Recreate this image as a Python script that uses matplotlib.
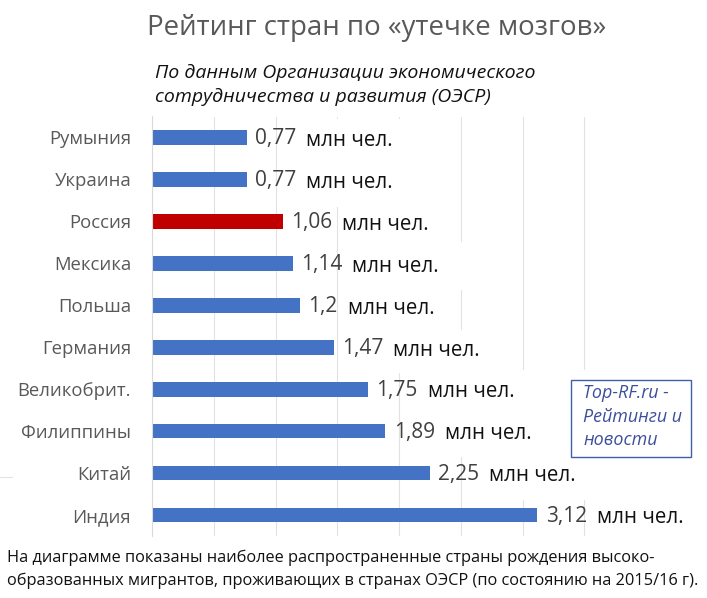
import matplotlib
matplotlib.use("Agg")
import matplotlib.pyplot as plt
from matplotlib.lines import Line2D
from matplotlib.patches import Rectangle

# ---------------- DATA ----------------
countries = ["Румыния", "Украина", "Россия", "Мексика", "Польша",
             "Германия", "Великобрит.", "Филиппины", "Китай", "Индия"]
values = [0.77, 0.77, 1.06, 1.14, 1.2, 1.47, 1.75, 1.89, 2.25, 3.12]
value_labels = ["0,77", "0,77", "1,06", "1,14", "1,2", "1,47", "1,75", "1,89", "2,25", "3,12"]
unit = "млн чел."
highlight = "Россия"
gridlines = [0.5, 1, 1.5, 2, 2.5, 3, 3.5]

# parts of the gridlines painted over in the original: (gridline, top px, bottom px)
grid_gaps = [(1.5, 119, 207), (2, 119, 373), (2.5, 242, 290), (2.5, 330, 457),
             (3, 370, 500), (3.5, 370, 500)]

plt.rcParams["font.family"] = ["Open Sans", "DejaVu Sans"]

W, H = 707, 598
fig = plt.figure(figsize=(W / 100, H / 100), dpi=100)

# axes: x=0 at pixel 152, one unit = 123.5 px; rows 42 px apart
ax = fig.add_axes([152 / W, 1 - 536 / H, 555 / W, (536 - 116.5) / H])
y = list(range(len(countries)))
colors = ["#c00000" if c == highlight else "#4472c4" for c in countries]
ax.barh(y, values, height=0.35, color=colors, zorder=2)
ax.set_xlim(0, 555 / 123.5)
ax.set_ylim(len(countries) - 0.5, -0.5)
ax.set_yticks(y)
ax.set_yticklabels(countries, fontsize=13.3, color="#595959")
ax.tick_params(axis="y", length=0, pad=15)
ax.set_xticks(gridlines)
ax.tick_params(axis="x", length=0, labelbottom=False)
ax.set_axisbelow(True)
ax.grid(axis="x", color="#e2e2e2", lw=0.8)
for s in ["top", "right", "bottom"]:
    ax.spines[s].set_visible(False)
ax.spines["left"].set_color("#d9d9d9")

for g, top, bottom in grid_gaps:
    xpx = 152 + g * 123.5
    ax.add_patch(Rectangle(((xpx - 3) / W, 1 - bottom / H), 6 / W, (bottom - top) / H,
                           transform=fig.transFigure, fc="white", ec="none", zorder=1))

# ---------------- VALUE LABELS ----------------
for i, (v, lab) in enumerate(zip(values, value_labels)):
    t = ax.annotate(lab, (v, i), xytext=(6, -1), textcoords="offset points",
                    va="center", fontsize=15, color="#404040", zorder=3)
    ax.annotate(unit, (1, 0.5), xycoords=t, xytext=(7, -1), textcoords="offset points",
                va="center", fontsize=14.8, color="#111111", zorder=3)

# ---------------- TITLES ----------------
fig.text(377 / W, 1 - 28 / H, "Рейтинг стран по «утечке мозгов»", ha="center", va="center",
         fontsize=19.9, color="#595959")
fig.text(155 / W, 1 - 73 / H, "По данным Организации экономического", va="center",
         fontsize=14, style="italic", color="#111111")
fig.text(155 / W, 1 - 97 / H, "сотрудничества и развития (ОЭСР)", va="center",
         fontsize=14, style="italic", color="#111111")

# ---------------- WATERMARK BOX ----------------
fig.add_artist(Rectangle((571 / W, 1 - 457 / H), 120 / W, 77 / H, transform=fig.transFigure,
                         fc="white", ec="#3f5fa8", lw=1, zorder=5))
for yy, line in zip([393, 417, 440], ["Top-RF.ru -", "Рейтинги и", "новости"]):
    fig.text(583 / W, 1 - yy / H, line, va="center", fontsize=12.9, style="italic",
             color="#3c4f9c", zorder=6)

# stray scrap of a line left of the Китай row
fig.add_artist(Line2D([0, 12 / W], [1 - 477 / H, 1 - 477 / H], transform=fig.transFigure,
                      color="#e2e2e2", lw=0.8))

# ---------------- FOOTNOTE ----------------
fig.text(7 / W, 1 - 558 / H, "На диаграмме показаны наиболее распространенные страны рождения высоко-",
         va="center", fontsize=11.8, color="#111111")
fig.text(7 / W, 1 - 581 / H, "образованных мигрантов, проживающих в странах ОЭСР (по состоянию на 2015/16 г).",
         va="center", fontsize=11.8, color="#111111")

fig.savefig("out.png", dpi=100)
